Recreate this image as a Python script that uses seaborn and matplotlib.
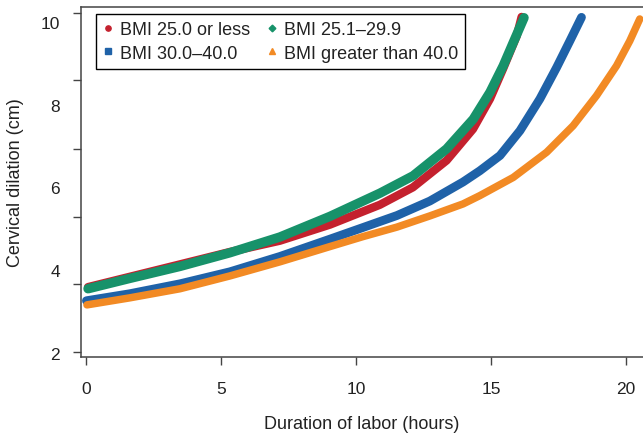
import pandas as pd
import matplotlib.pyplot as plt
import seaborn as sns
from matplotlib.lines import Line2D

# Series names, colours and legend markers
groups = ["BMI 25.0 or less", "BMI 25.1\u201329.9", "BMI 30.0\u201340.0", "BMI greater than 40.0"]
colors = ["#C4212E", "#17926A", "#1F62A8", "#F28A24"]
markers = ["o", "D", "s", "^"]

# Values (hours, cm)
hours_bmi25 = [0.06, 1.61, 3.47, 5.32, 7.17, 9.03, 10.88, 12.10, 13.35, 14.33, 14.96, 15.44, 15.95, 16.13]
dil_bmi25 = [3.59, 3.84, 4.14, 4.44, 4.71, 5.10, 5.58, 6.00, 6.65, 7.41, 8.14, 8.86, 9.66, 10.12]

hours_bmi29 = [0.06, 1.61, 3.47, 5.32, 7.17, 9.03, 10.88, 12.11, 13.35, 14.34, 14.96, 15.45, 15.82, 16.22]
dil_bmi29 = [3.55, 3.80, 4.09, 4.42, 4.80, 5.30, 5.86, 6.28, 6.93, 7.65, 8.30, 8.94, 9.50, 10.10]

hours_bmi40 = [0.0, 1.61, 3.47, 5.32, 7.17, 9.03, 10.25, 11.51, 12.73, 13.96, 14.58, 15.33, 16.07, 16.81, 17.43, 17.92, 18.35]
dil_bmi40 = [3.26, 3.43, 3.67, 3.96, 4.33, 4.75, 5.03, 5.32, 5.67, 6.13, 6.40, 6.77, 7.37, 8.14, 8.90, 9.54, 10.11]

hours_over40 = [0.02, 1.61, 3.47, 5.32, 7.17, 9.03, 10.25, 11.51, 12.73, 13.96, 14.58, 15.82, 17.06, 18.04, 18.91, 19.65, 20.14, 20.51]
dil_over40 = [3.16, 3.33, 3.55, 3.86, 4.20, 4.57, 4.81, 5.04, 5.31, 5.60, 5.80, 6.24, 6.85, 7.49, 8.22, 8.94, 9.54, 10.07]

x_ticks = [0, 5, 10, 15, 20]
y_labels = [2, 4, 6, 8, 10]
# the tick marks on the y axis do not sit under the labels in the original
y_tick_marks = [2.02, 3.67, 5.29, 6.93, 8.59, 10.21]

all_hours = [hours_bmi25, hours_bmi29, hours_bmi40, hours_over40]
all_dil = [dil_bmi25, dil_bmi29, dil_bmi40, dil_over40]

frames = []
for name, h, d in zip(groups, all_hours, all_dil):
    frames.append(pd.DataFrame({"hours": h, "dilation": d, "group": name}))
df = pd.concat(frames, ignore_index=True)

sns.set_style("ticks")
plt.rcParams['font.family'] = ['Liberation Sans', 'DejaVu Sans']

fig = plt.figure(figsize=(6.43, 4.39), dpi=100)
ax = fig.add_axes([0.126, 0.1845, 0.874, 0.7973])

widths = [6.0, 6.8, 6.3, 5.4]
for name, col, lw in zip(groups, colors, widths):
    sns.lineplot(data=df[df["group"] == name], x="hours", y="dilation", color=col,
                 linewidth=lw, sort=False, estimator=None, ax=ax, legend=False,
                 solid_capstyle="round", solid_joinstyle="round")

ax.set_xlim(-0.2, 20.63)
ax.set_ylim(1.9, 10.36)

ax.set_xticks(x_ticks)
ax.set_yticks(y_labels)
ax.set_yticks(y_tick_marks, minor=True)
ax.tick_params(axis="x", length=6, width=1, pad=11, labelsize=12.5, color="#444444", labelcolor="#222222")
ax.tick_params(axis="y", which="major", length=0, pad=15, labelsize=12.5, labelcolor="#222222")
ax.tick_params(axis="y", which="minor", length=6, width=1, color="#444444")

for side in ["left", "bottom", "top"]:
    ax.spines[side].set_color("#444444")
    ax.spines[side].set_linewidth(1.1)
ax.spines["right"].set_visible(False)

ax.set_xlabel("Duration of labor (hours)", fontsize=13, labelpad=14, color="#222222")
ax.set_ylabel("Cervical dilation (cm)", fontsize=13, labelpad=12, color="#222222")

handles = [Line2D([], [], linestyle="none", marker=m, color=c, markersize=3.8 if m != "D" else 3.4)
           for m, c in zip(markers, colors)]
# legend fills column by column, so put the entries in row order
order = [0, 2, 1, 3]
leg = ax.legend([handles[i] for i in order], [groups[i] for i in order], ncol=2,
                loc="upper left", bbox_to_anchor=(0.026, 0.98),
                borderaxespad=0, fontsize=13, frameon=True, fancybox=False, framealpha=1,
                edgecolor="black", handlelength=0.6, handletextpad=0.35, columnspacing=0.9,
                labelspacing=0.35, borderpad=0.4)
leg.get_frame().set_linewidth(1.0)
for t in leg.get_texts():
    t.set_color("#222222")

fig.savefig("out.png", dpi=100)
